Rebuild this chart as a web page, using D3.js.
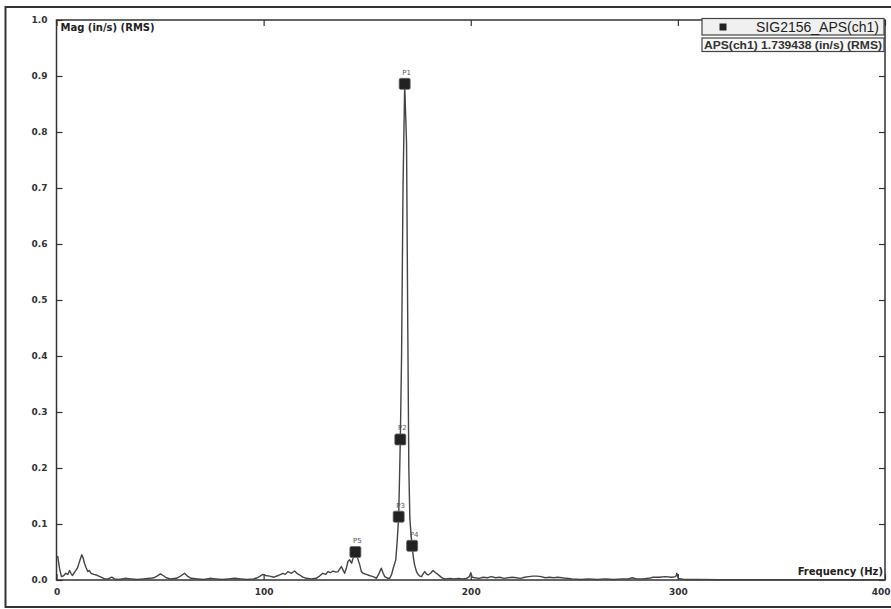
<!DOCTYPE html>
<html>
<head>
<meta charset="utf-8">
<script src="https://cdn.jsdelivr.net/npm/d3@7"></script>
<style>
  html, body { margin: 0; padding: 0; background: #fff; overflow: hidden; }
  svg { display: block; }
</style>
</head>
<body>
<div id="chart"></div>
<script>
// ===== data =====
const freq = [
  0, 0.6, 1.5, 2.4, 3.5, 4.5, 5.5, 6.3, 7.0, 7.7, 8.6, 9.5, 10.2, 10.6, 11.4, 12.2, 12.8, 13.5, 14.3, 15.1,
  15.8, 16.7, 18.0, 19.2, 20.4, 21.6, 23.2, 25, 26.7, 28, 30, 33, 36, 39, 42, 45, 47, 48.5, 50.2, 51.5,
  53, 55, 58, 60.3, 61.8, 63.2, 65, 68, 71, 74, 77, 80, 83, 86, 89, 92, 95, 97, 99.7, 101,
  102.9, 105, 107, 109.3, 110.5, 111.7, 113.4, 115, 116.3, 117.4, 119, 120.6, 123, 125.4, 127, 128.6, 130, 131, 132.3, 133.5,
  135, 135.9, 137.5, 138.3, 139.1, 140, 140.7, 141.5, 142.5, 143.5, 144.3, 145.3, 146.4, 147.2, 148, 149.6, 151, 152, 153.5, 154.4,
  155.5, 156.8, 157.7, 158.5, 160, 160.9, 161.8, 162.5, 163.3, 163.8, 164.5, 165.2, 165.6, 166.0, 166.6, 167.3, 168.1, 169.0, 169.6, 170.1,
  170.6, 171.2, 171.7, 172.3, 172.9, 173.8, 174.6, 175.4, 176.2, 177, 177.8, 178.6, 179.4, 180.6, 181.8, 183, 184.2, 185.4, 186.6, 188,
  190, 192, 194, 196, 198, 199.3, 200, 200.7, 202, 204, 206, 208, 210, 212, 214, 216, 218, 220, 222, 224,
  226, 228, 230, 232, 234, 236, 238, 240, 242, 244, 246, 249, 253, 257, 261, 265, 269, 273, 276, 278,
  280, 283, 286, 288, 291, 294, 297, 299, 299.5, 300.2, 303, 310, 320, 340, 360, 380, 400
];
const mag = [
  0.040, 0.042, 0.020, 0.006, 0.008, 0.012, 0.010, 0.017, 0.012, 0.008, 0.013, 0.018, 0.022, 0.027, 0.036, 0.045, 0.040, 0.030, 0.022, 0.015,
  0.017, 0.012, 0.010, 0.009, 0.007, 0.005, 0.002, 0.002, 0.005, 0.002, 0.001, 0.003, 0.002, 0.001, 0.002, 0.003, 0.004, 0.007, 0.011, 0.008,
  0.004, 0.002, 0.003, 0.008, 0.012, 0.007, 0.003, 0.002, 0.001, 0.003, 0.002, 0.001, 0.002, 0.003, 0.002, 0.001, 0.002, 0.004, 0.010, 0.008,
  0.007, 0.005, 0.008, 0.012, 0.010, 0.015, 0.012, 0.016, 0.011, 0.009, 0.005, 0.003, 0.002, 0.003, 0.007, 0.012, 0.010, 0.015, 0.013, 0.016,
  0.014, 0.015, 0.024, 0.018, 0.012, 0.022, 0.033, 0.036, 0.030, 0.044, 0.050, 0.040, 0.027, 0.015, 0.012, 0.010, 0.008, 0.007, 0.005, 0.003,
  0.010, 0.021, 0.012, 0.006, 0.003, 0.003, 0.010, 0.020, 0.030, 0.036, 0.070, 0.113, 0.180, 0.251, 0.400, 0.700, 0.886, 0.780, 0.450, 0.200,
  0.110, 0.080, 0.061, 0.040, 0.027, 0.015, 0.010, 0.007, 0.006, 0.011, 0.015, 0.011, 0.009, 0.012, 0.017, 0.013, 0.010, 0.006, 0.003, 0.002,
  0.003, 0.002, 0.003, 0.002, 0.003, 0.006, 0.013, 0.005, 0.004, 0.003, 0.005, 0.004, 0.006, 0.004, 0.005, 0.003, 0.004, 0.005, 0.004, 0.003,
  0.005, 0.006, 0.007, 0.007, 0.006, 0.004, 0.005, 0.004, 0.005, 0.004, 0.003, 0.002, 0.001, 0.002, 0.001, 0.002, 0.001, 0.002, 0.002, 0.004,
  0.002, 0.002, 0.003, 0.005, 0.005, 0.006, 0.005, 0.006, 0.012, 0.003, 0.001, 0.001, 0.0005, 0.0005, 0.0005, 0.0005, 0.0005
];

// peak markers
const peakLabels = ["P1", "P2", "P3", "P4", "P5"];
const peakFreq = [168.1, 166.0, 165.2, 171.7, 144.3];
const peakMag = [0.886, 0.251, 0.113, 0.061, 0.050];

const yTicks = [0, 0.1, 0.2, 0.3, 0.4, 0.5, 0.6, 0.7, 0.8, 0.9, 1.0];
const xTicks = [0, 100, 200, 300, 400];

const seriesName = "SIG2156_APS(ch1)";
const overallText = "APS(ch1) 1.739438 (in/s) (RMS)";

// ===== layout =====
const svgWidth = 891;
const svgHeight = 609;
const plot = { left: 56.5, right: 885, top: 20, bottom: 580 };

const svg = d3.select("#chart")
  .append("svg")
  .attr("width", svgWidth)
  .attr("height", svgHeight);

const xScale = d3.scaleLinear().domain([0, 400]).range([plot.left, plot.right]);
const yScale = d3.scaleLinear().domain([0, 1]).range([plot.bottom, plot.top]);

// outer frame
svg.append("rect")
  .attr("x", 5.5).attr("y", 7)
  .attr("width", 900).attr("height", 600)
  .attr("fill", "none")
  .attr("stroke", "#333")
  .attr("stroke-width", 2);

// ===== axes =====
const tickFont = g => g
  .attr("font-family", "DejaVu Sans, Verdana, sans-serif")
  .attr("font-size", 9)
  .attr("font-weight", "bold")
  .call(g => g.select(".domain").remove())
  .call(g => g.selectAll(".tick line").attr("stroke", "#333").attr("stroke-width", 1.2))
  .call(g => g.selectAll(".tick text").attr("fill", "#333"));

svg.append("g")
  .attr("transform", `translate(${plot.left},0)`)
  .call(d3.axisLeft(yScale).tickValues(yTicks).tickSize(-6).tickPadding(9).tickFormat(d3.format(".1f")))
  .call(tickFont);

svg.append("g")
  .attr("transform", `translate(${plot.right},0)`)
  .call(d3.axisRight(yScale).tickValues(yTicks).tickSize(-6).tickFormat(""))
  .call(tickFont);

svg.append("g")
  .attr("transform", `translate(0,${plot.bottom})`)
  .call(d3.axisBottom(xScale).tickValues(xTicks).tickSize(-6).tickPadding(9).tickFormat(d3.format("d")))
  .call(tickFont)
  // last label sits on the window edge: keep it inside
  .call(g => g.selectAll(".tick text").filter(d => d === 400)
    .attr("text-anchor", "end").attr("dx", 5));

svg.append("g")
  .attr("transform", `translate(0,${plot.top})`)
  .call(d3.axisTop(xScale).tickValues(xTicks).tickSize(-6).tickFormat(""))
  .call(tickFont);

// plot border
svg.append("rect")
  .attr("x", plot.left).attr("y", plot.top)
  .attr("width", plot.right - plot.left)
  .attr("height", plot.bottom - plot.top)
  .attr("fill", "none")
  .attr("stroke", "#333")
  .attr("stroke-width", 1.5);

// axis titles
svg.append("text")
  .attr("x", plot.left + 4).attr("y", 31)
  .attr("font-family", "DejaVu Sans, Verdana, sans-serif")
  .attr("font-size", 10).attr("font-weight", "bold")
  .attr("fill", "#222")
  .text("Mag (in/s) (RMS)");

svg.append("text")
  .attr("x", plot.right - 2).attr("y", 575)
  .attr("text-anchor", "end")
  .attr("font-family", "DejaVu Sans, Verdana, sans-serif")
  .attr("font-size", 10).attr("font-weight", "bold")
  .attr("fill", "#222")
  .text("Frequency (Hz)");

// ===== spectrum line =====
const points = freq.map((f, i) => [f, mag[i]]);

const line = d3.line()
  .x(d => xScale(d[0]))
  .y(d => yScale(d[1]));

svg.append("path")
  .datum(points)
  .attr("fill", "none")
  .attr("stroke", "#444")
  .attr("stroke-width", 1.4)
  .attr("stroke-linejoin", "round")
  .attr("d", line);

// ===== peak markers =====
const peaks = svg.selectAll(".peak")
  .data(peakLabels)
  .enter()
  .append("g")
  .attr("class", "peak")
  .attr("transform", (d, i) => `translate(${xScale(peakFreq[i])},${yScale(peakMag[i])})`);

peaks.append("rect")
  .attr("x", -5.5).attr("y", -5.5)
  .attr("width", 11).attr("height", 11)
  .attr("rx", 1.5)
  .attr("fill", "#222")
  .attr("stroke", "#666")
  .attr("stroke-width", 0.8);

peaks.append("text")
  .attr("x", 2).attr("y", -9)
  .attr("text-anchor", "middle")
  .attr("font-family", "DejaVu Sans, sans-serif")
  .attr("font-size", 7)
  .attr("fill", "#555")
  .text(d => d);

// ===== legend =====
const legend = svg.append("g");

legend.append("rect")
  .attr("x", 702).attr("y", 18.5)
  .attr("width", 182).attr("height", 16.5)
  .attr("fill", "#f0f0f0")
  .attr("stroke", "#444")
  .attr("stroke-width", 1.2);

legend.append("rect")
  .attr("x", 719.5).attr("y", 23.5)
  .attr("width", 7).attr("height", 7)
  .attr("fill", "#222");

legend.append("text")
  .attr("x", 879).attr("y", 32)
  .attr("text-anchor", "end")
  .attr("font-family", "Liberation Sans, Arial, sans-serif")
  .attr("font-size", 14)
  .attr("fill", "#222")
  .text(seriesName);

legend.append("rect")
  .attr("x", 702).attr("y", 38)
  .attr("width", 182).attr("height", 13.5)
  .attr("fill", "#f8f8f8")
  .attr("stroke", "#444")
  .attr("stroke-width", 1.2);

legend.append("text")
  .attr("x", 704).attr("y", 49)
  .attr("font-family", "Liberation Sans, Arial, sans-serif")
  .attr("font-size", 11)
  .attr("font-weight", "bold")
  .attr("fill", "#333")
  .attr("textLength", 178)
  .attr("lengthAdjust", "spacingAndGlyphs")
  .text(overallText);
</script>
</body>
</html>
